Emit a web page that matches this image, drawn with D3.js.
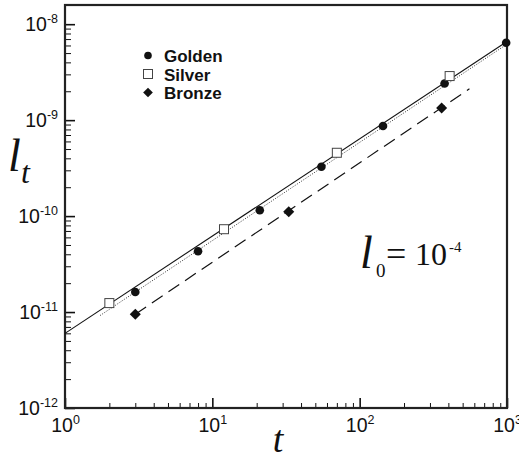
<!DOCTYPE html>
<html>
<head>
<meta charset="utf-8">
<script src="https://cdn.jsdelivr.net/npm/d3@7"></script>
<style>
  body { margin: 0; background: #fff; }
  svg { display: block; }
</style>
</head>
<body>
<svg id="chart" width="519" height="457"></svg>
<script>
// values
var goldenT = [3, 8, 21, 55, 144, 377, 987];
var goldenL = [1.62e-11, 4.3e-11, 1.15e-10, 3.27e-10, 8.7e-10, 2.41e-9, 6.4e-9];
var silverT = [2, 12, 70, 408];
var silverL = [1.24e-11, 7.3e-11, 4.57e-10, 2.88e-9];
var bronzeT = [3, 33, 360];
var bronzeL = [9.5e-12, 1.11e-10, 1.34e-9];

// fitted lines (end points)
var solidT = [1, 1000];
var solidL = [6.0e-12, 6.6e-9];
var dottedT = [1.73, 1000];
var dottedL = [9.2e-12, 6.2e-9];
var dashedT = [3, 556];
var dashedL = [9.5e-12, 2.12e-9];

var xTicks = [1, 10, 100, 1000];
var yTicks = [1e-12, 1e-11, 1e-10, 1e-9, 1e-8];
var legendNames = ['Golden', 'Silver', 'Bronze'];

var plotL = 65, plotR = 507, plotT = 5, plotB = 408;

var svg = d3.select('#chart');

var x = d3.scaleLog().domain([1, 1000]).range([plotL, plotR]);
var y = d3.scaleLog().domain([1e-12, Math.pow(10, -7.8)]).range([plotB, plotT]);

function minors(lo, hi) {
    var out = [];
    for (var e = lo; e < hi; e++) {
        for (var m = 2; m <= 9; m++) out.push(m * Math.pow(10, e));
    }
    return out;
}

function supLabel(sel, size, supSize) {
    sel.selectAll('.tick text').each(function(d) {
        var ex = Math.round(Math.log10(d));
        var t = d3.select(this).text(null)
            .attr('font-family', '"Liberation Sans", Arial, sans-serif')
            .attr('font-size', size)
            .attr('fill', '#111');
        t.append('tspan').text('10');
        t.append('tspan').attr('dy', '-0.6em').attr('font-size', supSize).text(ex);
    });
}

// minor ticks
svg.append('g')
    .attr('transform', 'translate(' + plotL + ',0)')
    .call(d3.axisLeft(y).tickValues(minors(-12, -8).concat([2e-8])).tickSize(-6).tickFormat(''))
    .call(function(g) { g.select('.domain').remove(); })
    .selectAll('line').attr('stroke', '#111').attr('stroke-width', 1);

svg.append('g')
    .attr('transform', 'translate(0,' + plotB + ')')
    .call(d3.axisBottom(x).tickValues(minors(0, 3)).tickSize(-5).tickFormat(''))
    .call(function(g) { g.select('.domain').remove(); })
    .selectAll('line').attr('stroke', '#111').attr('stroke-width', 1);

// major ticks + labels
var yAxis = svg.append('g')
    .attr('transform', 'translate(' + plotL + ',0)')
    .call(d3.axisLeft(y).tickValues(yTicks).tickSize(-10).tickPadding(7));
yAxis.select('.domain').remove();
yAxis.selectAll('line').attr('stroke', '#111').attr('stroke-width', 1.6);
supLabel(yAxis, 19.5, 12.5);

var xAxis = svg.append('g')
    .attr('transform', 'translate(0,' + plotB + ')')
    .call(d3.axisBottom(x).tickValues(xTicks).tickSize(-10).tickPadding(10));
xAxis.select('.domain').remove();
xAxis.selectAll('line').attr('stroke', '#111').attr('stroke-width', 1.6);
supLabel(xAxis, 19.5, 12.5);

// frame
svg.append('rect')
    .attr('x', plotL).attr('y', plotT)
    .attr('width', plotR - plotL).attr('height', plotB - plotT)
    .attr('fill', 'none').attr('stroke', '#222').attr('stroke-width', 2.2);

// fit lines
var line = d3.line().x(function(d) { return x(d[0]); }).y(function(d) { return y(d[1]); });

svg.append('path').datum(d3.zip(solidT, solidL))
    .attr('d', line).attr('fill', 'none').attr('stroke', '#111').attr('stroke-width', 1.1);
svg.append('path').datum(d3.zip(dottedT, dottedL))
    .attr('d', line).attr('fill', 'none').attr('stroke', '#333').attr('stroke-width', 1)
    .attr('stroke-dasharray', '1,1.6');
svg.append('path').datum(d3.zip(dashedT, dashedL))
    .attr('d', line).attr('fill', 'none').attr('stroke', '#111').attr('stroke-width', 1.2)
    .attr('stroke-dasharray', '13,7');

// markers
function drawCircle(g, cx, cy, r) {
    g.append('circle').attr('cx', cx).attr('cy', cy).attr('r', r || 4.3).attr('fill', '#111');
}
function drawSquare(g, cx, cy) {
    g.append('rect').attr('x', cx - 4.5).attr('y', cy - 4.5).attr('width', 9).attr('height', 9)
        .attr('fill', '#fff').attr('stroke', '#444').attr('stroke-width', 1);
}
function drawDiamond(g, cx, cy, s) {
    g.append('path').attr('d', d3.symbol().type(d3.symbolDiamond2).size(s || 78)())
        .attr('transform', 'translate(' + cx + ',' + cy + ')')
        .attr('fill', '#111');
}

var marks = svg.append('g');
goldenT.forEach(function(t, i) { drawCircle(marks, x(t), y(goldenL[i])); });
silverT.forEach(function(t, i) { drawSquare(marks, x(t), y(silverL[i])); });
bronzeT.forEach(function(t, i) { drawDiamond(marks, x(t), y(bronzeL[i])); });

// legend
var legend = svg.append('g');
legendNames.forEach(function(name, i) {
    var by = 62 + i * 18.5;
    if (i == 0) drawCircle(legend, 148, by - 6.5, 3.8);
    if (i == 1) drawSquare(legend, 148, by - 6.5);
    if (i == 2) drawDiamond(legend, 148, by - 6.5, 60);
    legend.append('text').attr('x', 164).attr('y', by)
        .attr('font-family', '"Liberation Sans", Arial, sans-serif')
        .attr('font-weight', 'bold').attr('font-size', 17).attr('fill', '#111')
        .text(name);
});

// axis titles
var serif = '"Liberation Serif", "Times New Roman", serif';
svg.append('text').attr('x', 8).attr('y', 171)
    .attr('font-family', serif).attr('font-style', 'italic').attr('font-size', 46).attr('fill', '#111')
    .text('l');
svg.append('text').attr('x', 21).attr('y', 183)
    .attr('font-family', serif).attr('font-style', 'italic').attr('font-size', 32).attr('fill', '#111')
    .text('t');
svg.append('text').attr('x', 278).attr('y', 452).attr('text-anchor', 'middle')
    .attr('font-family', serif).attr('font-style', 'italic').attr('font-size', 38).attr('fill', '#111')
    .text('t');

// annotation
svg.append('text').attr('x', 360).attr('y', 268)
    .attr('font-family', serif).attr('font-style', 'italic').attr('font-size', 46).attr('fill', '#111')
    .text('l');
svg.append('text').attr('x', 376).attr('y', 277)
    .attr('font-family', serif).attr('font-size', 19).attr('fill', '#111')
    .text('0');
svg.append('text').attr('x', 386).attr('y', 266)
    .attr('font-family', serif).attr('font-size', 36).attr('fill', '#111')
    .text('=');
svg.append('text').attr('x', 415).attr('y', 265)
    .attr('font-family', serif).attr('font-size', 32).attr('fill', '#111')
    .text('10');
svg.append('text').attr('x', 449).attr('y', 252)
    .attr('font-family', serif).attr('font-size', 15).attr('fill', '#111')
    .text('-4');
</script>
</body>
</html>
